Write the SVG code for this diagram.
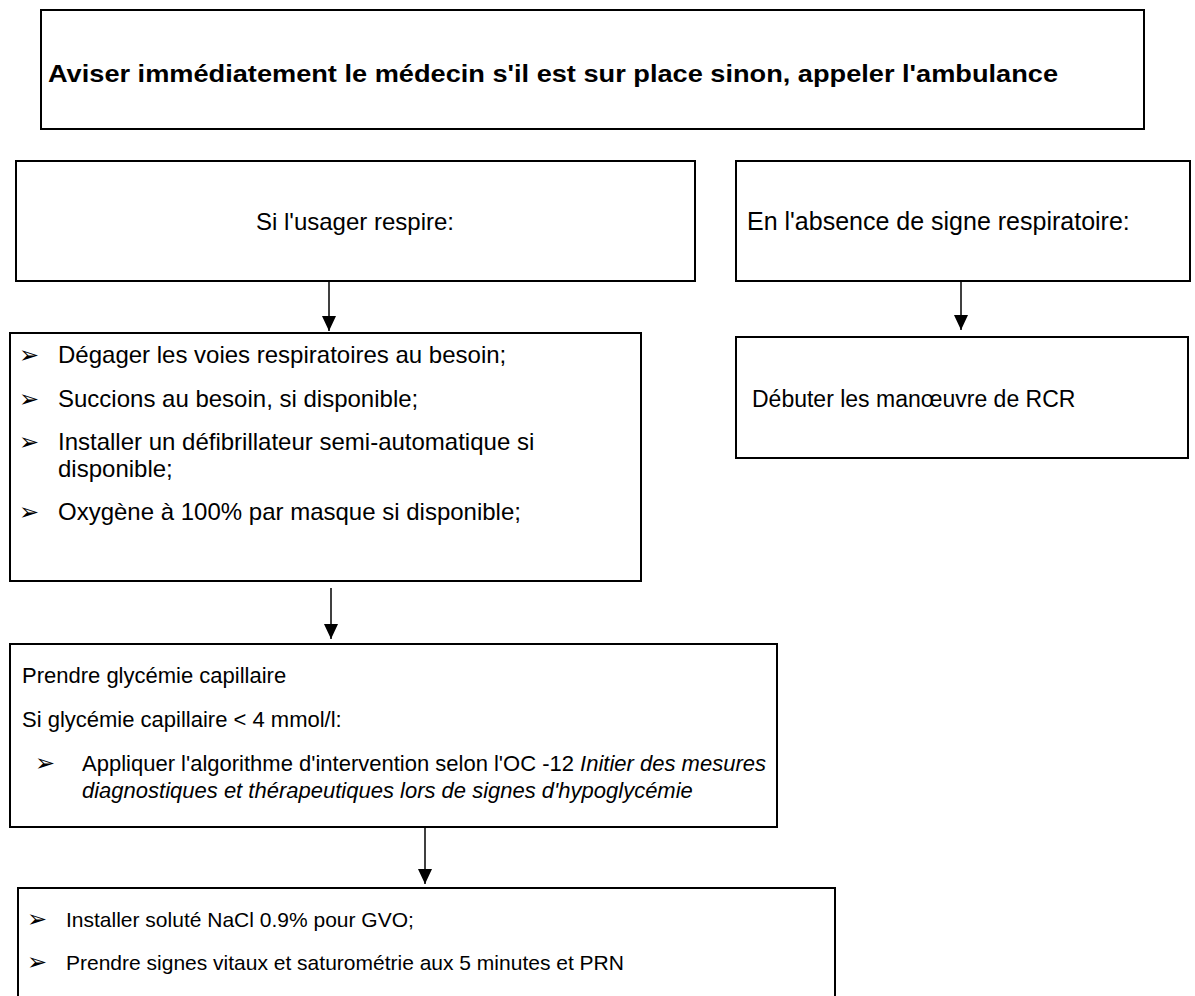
<svg xmlns="http://www.w3.org/2000/svg" width="1195" height="996" viewBox="0 0 1195 996">
<style>
.box{fill:#fff;stroke:#000;stroke-width:2}
.t{font-family:"Liberation Sans",Arial,sans-serif;fill:#000}
.b{font-weight:bold;font-size:24px}
.s25{font-size:25px}
.s24{font-size:24px}
.s23{font-size:23px}
.s22{font-size:22px}
.s21{font-size:21px}
.bul{font-family:"DejaVu Sans",sans-serif;font-size:24px;fill:#000}
.c{stroke:#000;stroke-width:1.5;fill:none}
</style>
<defs>
<marker id="ah" markerUnits="userSpaceOnUse" markerWidth="16" markerHeight="14" refX="15" refY="7" orient="auto" viewBox="0 0 16 14">
<path d="M0,0 L15,7 L0,14 Z" fill="#000"/>
</marker>
</defs>
<rect width="1195" height="996" fill="#fff"/>
<g id="n1"><rect class="box" x="41" y="10" width="1103" height="119"/>
<text class="t b" x="48" y="82" textLength="1010" lengthAdjust="spacingAndGlyphs">Aviser immédiatement le médecin s'il est sur place sinon, appeler l'ambulance</text></g>
<g id="n2"><rect class="box" x="16" y="161" width="679" height="120"/>
<text class="t s24" x="355" y="230" text-anchor="middle">Si l'usager respire:</text></g>
<g id="n3"><rect class="box" x="736" y="161" width="454" height="120"/>
<text class="t s25" x="747" y="230">En l'absence de signe respiratoire:</text></g>
<g id="n4"><rect class="box" x="10" y="333" width="631" height="248"/>
<text class="bul" x="19" y="363">➢</text><text class="t s24" x="58" y="363">Dégager les voies respiratoires au besoin;</text>
<text class="bul" x="19" y="407">➢</text><text class="t s24" x="58" y="407">Succions au besoin, si disponible;</text>
<text class="bul" x="19" y="450">➢</text><text class="t s24" x="58" y="450">Installer un défibrillateur semi-automatique si</text>
<text class="t s24" x="58" y="477">disponible;</text>
<text class="bul" x="19" y="520">➢</text><text class="t s24" x="58" y="520">Oxygène à 100% par masque si disponible;</text></g>
<g id="n5"><rect class="box" x="736" y="337" width="452" height="121"/>
<text class="t s23" x="752" y="407">Débuter les manœuvre de RCR</text></g>
<g id="n6"><rect class="box" x="10" y="644" width="767" height="183"/>
<text class="t s22" x="22" y="683">Prendre glycémie capillaire</text>
<text class="t s22" x="22" y="727">Si glycémie capillaire &lt; 4 mmol/l:</text>
<text class="bul" x="35" y="771">➢</text><text class="t s22" x="82" y="771">Appliquer l'algorithme d'intervention selon l'OC -12 <tspan font-style="italic">Initier des mesures</tspan></text>
<text class="t s22" x="82" y="798" font-style="italic">diagnostiques et thérapeutiques lors de signes d'hypoglycémie</text></g>
<g id="n7"><rect class="box" x="18" y="888" width="817" height="120"/>
<text class="bul" x="27" y="927">➢</text><text class="t s21" x="66" y="927">Installer soluté NaCl 0.9% pour GVO;</text>
<text class="bul" x="27" y="970">➢</text><text class="t s21" x="66" y="970">Prendre signes vitaux et saturométrie aux 5 minutes et PRN</text></g>
<g id="connectors">
<line class="c" x1="329" y1="281" x2="329" y2="331" marker-end="url(#ah)"/>
<line class="c" x1="961" y1="281" x2="961" y2="330" marker-end="url(#ah)"/>
<line class="c" x1="331" y1="588" x2="331" y2="639" marker-end="url(#ah)"/>
<line class="c" x1="425" y1="828" x2="425" y2="884" marker-end="url(#ah)"/>
</g>
</svg>
